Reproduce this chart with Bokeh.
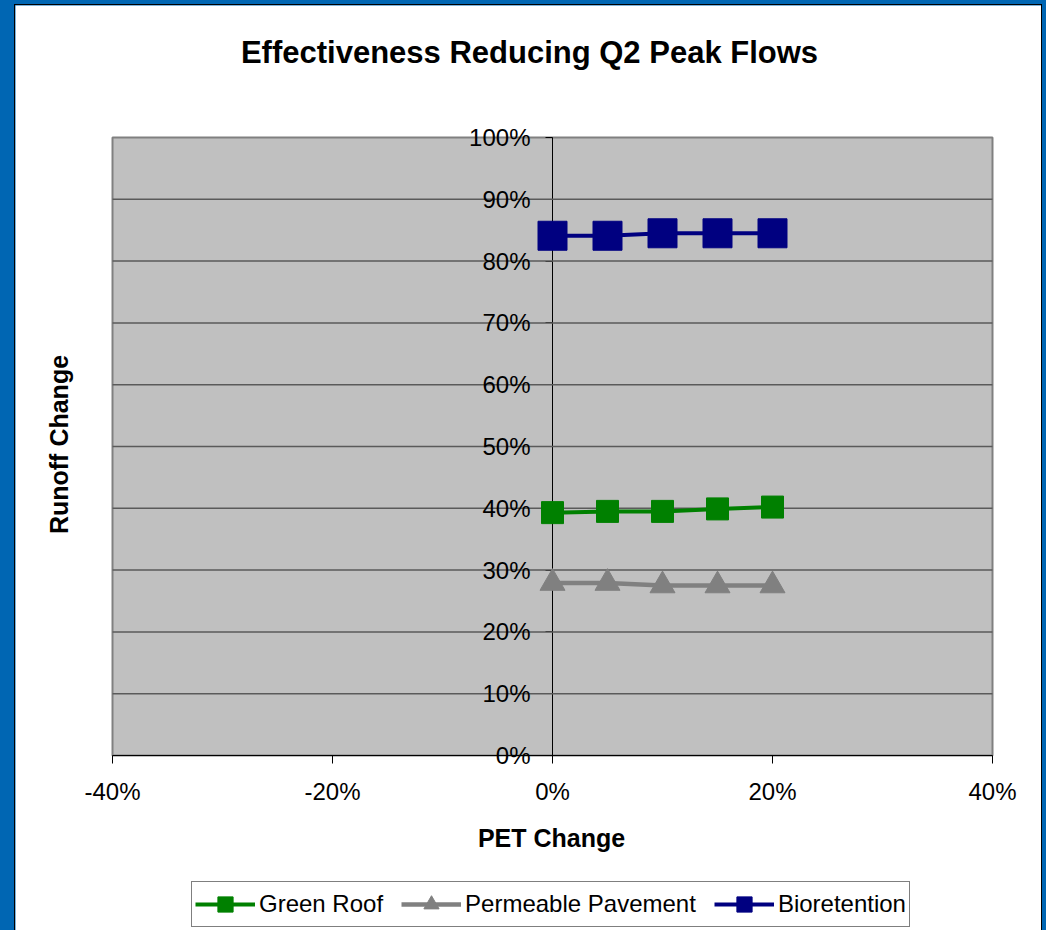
import math
from bokeh.plotting import figure
from bokeh.models import (ColumnDataSource, FixedTicker, LinearAxis, Legend, LegendItem, Range1d)
from bokeh.core.properties import value
from bokeh.layouts import column
from bokeh.embed import file_html
from bokeh.resources import INLINE

# ---------------- data ----------------
pet_change = [0.00, 0.05, 0.10, 0.15, 0.20]
green_roof = [0.393, 0.395, 0.395, 0.399, 0.402]
permeable_pavement = [0.279, 0.279, 0.275, 0.275, 0.275]
bioretention = [0.841, 0.841, 0.845, 0.845, 0.845]

x_ticks = [-0.4, -0.2, 0.0, 0.2, 0.4]
y_ticks = [0.0, 0.1, 0.2, 0.3, 0.4, 0.5, 0.6, 0.7, 0.8, 0.9, 1.0]
x_tick_labels = ["%d%%" % round(t * 100) for t in x_ticks]
y_tick_labels = ["%d%%" % round(t * 100) for t in y_ticks]

title_text = "Effectiveness Reducing Q2 Peak Flows"
x_title = "PET Change"
y_title = "Runoff Change"
series_names = ["Green Roof", "Permeable Pavement", "Bioretention"]

FONT = "Liberation Sans"

# ---------------- layout (pixels within the chart box) ----------------
FRAME_W, FRAME_H = 1026, 925          # drawing frame covers the whole white chart box
AREA_L, AREA_R = 97, 977              # plot area inside frame (x)
AREA_T, AREA_B = 132, 750             # plot area inside frame (y)
xmin, xmax = min(x_ticks), max(x_ticks)
ymin, ymax = min(y_ticks), max(y_ticks)
xs = (AREA_R - AREA_L) / (xmax - xmin)
ys = (AREA_B - AREA_T) / (ymax - ymin)
x_range = Range1d(xmin - AREA_L / xs, xmin + (FRAME_W - AREA_L) / xs)
y_range = Range1d(ymax - (FRAME_H - AREA_T) / ys, ymax + AREA_T / ys)

p = figure(frame_width=FRAME_W, frame_height=FRAME_H,
           x_range=x_range, y_range=y_range,
           x_axis_location=None, y_axis_location=None,
           output_backend="svg", toolbar_location=None,
           min_border=0,
           background_fill_color="white", border_fill_color="white")
p.outline_line_color = None
for g in p.grid:
    g.visible = False

src = ColumnDataSource(dict(x=pet_change, gr=green_roof, pp=permeable_pavement, bio=bioretention))

# plot area
p.quad(left=[xmin], right=[xmax], bottom=[ymin], top=[ymax],
       fill_color="#c0c0c0", line_color="#808080", line_width=2, level="image")
inner = y_ticks[1:-1]
p.segment(x0=[xmin] * len(inner), x1=[xmax] * len(inner), y0=inner, y1=inner,
          line_color="#5a5a5a", line_width=1.5)

# axes crossing at zero (ticks only; labels drawn as text)
xa = LinearAxis(fixed_location=0, ticker=FixedTicker(ticks=x_ticks), bounds=(xmin, xmax),
                major_tick_in=0, major_tick_out=8, minor_tick_line_color=None,
                axis_line_color="black", major_tick_line_color="black",
                major_label_overrides={t: "" for t in x_ticks},
                major_label_text_font_size="1px", major_label_standoff=0, level="underlay")
p.add_layout(xa, "below")
ya = LinearAxis(fixed_location=0, ticker=FixedTicker(ticks=y_ticks), bounds=(ymin, ymax),
                major_tick_in=7, major_tick_out=0, minor_tick_line_color=None,
                axis_line_color="black", major_tick_line_color="black",
                major_label_overrides={t: "" for t in y_ticks},
                major_label_text_font_size="1px", major_label_standoff=0, level="underlay")
p.add_layout(ya, "right")

# tick labels
p.text(x=x_ticks, y=[0] * len(x_ticks), text=x_tick_labels, x_offset=0, y_offset=36,
       text_font=value(FONT), text_font_size="24px", text_color="black",
       text_align="center", text_baseline="alphabetic")
p.text(x=[0] * len(y_ticks), y=y_ticks, text=y_tick_labels, x_offset=-22, y_offset=0,
       text_font=value(FONT), text_font_size="24px", text_color="black",
       text_align="right", text_baseline="alphabetic")

# series
l1 = p.line("x", "gr", source=src, line_color="#008000", line_width=4)
m1 = p.scatter("x", "gr", source=src, marker="square", size=22, fill_color="#008000", line_color="#008000")
l2 = p.line("x", "pp", source=src, line_color="#808080", line_width=4.5)
m2 = p.scatter("x", "pp", source=src, marker="triangle", size=25, fill_color="#808080", line_color="#808080")
l3 = p.line("x", "bio", source=src, line_color="#000080", line_width=4)
m3 = p.scatter("x", "bio", source=src, marker="square", size=29, fill_color="#000080", line_color="#000080")

# titles
p.text(x=[0], y=[ymax], text=[title_text], x_offset=-23, y_offset=-85,
       text_font=value(FONT), text_font_size="31px", text_font_style="bold", text_color="black",
       text_align="center", text_baseline="alphabetic")
p.text(x=[0], y=[ymin], text=[x_title], x_offset=-1, y_offset=82,
       text_font=value(FONT), text_font_size="25px", text_font_style="bold", text_color="black",
       text_align="center", text_baseline="alphabetic")
p.text(x=[xmin], y=[(ymin + ymax) / 2], text=[y_title], x_offset=-54, y_offset=-2, angle=math.pi / 2,
       text_font=value(FONT), text_font_size="25px", text_font_style="bold", text_color="black",
       text_align="center", text_baseline="alphabetic")

legend = Legend(items=[LegendItem(label=series_names[0], renderers=[l1, m1]),
                       LegendItem(label=series_names[1], renderers=[l2, m2]),
                       LegendItem(label=series_names[2], renderers=[l3, m3])],
                orientation="horizontal", location=(176, 3),
                label_text_font=FONT, label_text_font_size="24px", label_text_color="black",
                glyph_width=60, glyph_height=38, label_standoff=4, spacing=18,
                padding=3, margin=0, border_line_color="black", border_line_width=1,
                background_fill_color="white", background_fill_alpha=1.0)
p.add_layout(legend)

p.styles = {"outline": "1px solid #000000"}
layout = column(p, styles={"background-color": "#0066b3", "padding": "5px 5px 0px 15px"})

open("out.html", "w").write(file_html(layout, INLINE))
